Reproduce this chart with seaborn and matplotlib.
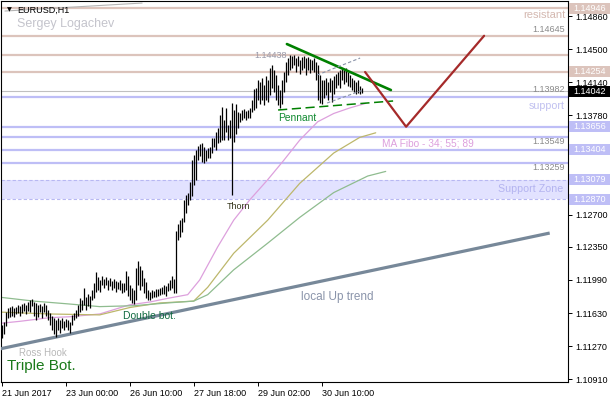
import matplotlib
matplotlib.use("Agg")
import pandas as pd
import matplotlib.pyplot as plt
import matplotlib.transforms as mtransforms
from matplotlib.patches import Rectangle
import seaborn as sns

sns.set_style("white")
plt.rcParams['font.family'] = ['Liberation Sans', 'DejaVu Sans']

# EURUSD H1 bars (high / low)
high = [1.1150, 1.1153, 1.1164, 1.1169, 1.1170, 1.1171, 1.1169, 1.1170, 1.1172, 1.1171,
        1.1173, 1.1174, 1.1172, 1.1175, 1.1177, 1.1178, 1.1175, 1.1174, 1.1172, 1.1173,
        1.1171, 1.1174, 1.1172, 1.1166, 1.1163, 1.1160, 1.1158, 1.1155, 1.1158, 1.1155,
        1.1158, 1.1154, 1.1157, 1.1155, 1.1153, 1.1161, 1.1163, 1.1166, 1.1172, 1.1179,
        1.1177, 1.1190, 1.1180, 1.1184, 1.1182, 1.1188, 1.1196, 1.1208, 1.1202, 1.1199,
        1.1203, 1.1200, 1.1202, 1.1199, 1.1201, 1.1198, 1.1200, 1.1198, 1.1197, 1.1199,
        1.1196, 1.1196, 1.1209, 1.1203, 1.1194, 1.1190, 1.1188, 1.1212, 1.1220, 1.1214,
        1.1210, 1.1201, 1.1197, 1.1188, 1.1186, 1.1188, 1.1187, 1.1189, 1.1189, 1.1190,
        1.1191, 1.1194, 1.1192, 1.1196, 1.1199, 1.1203, 1.1200, 1.1252, 1.1260, 1.1264,
        1.1266, 1.1286, 1.1291, 1.1294, 1.1306, 1.1329, 1.1335, 1.1340, 1.1345, 1.1347,
        1.1348, 1.1344, 1.1340, 1.1343, 1.1344, 1.1353, 1.1353, 1.1360, 1.1364, 1.1378,
        1.1387, 1.1373, 1.1386, 1.1368, 1.1373, 1.1391, 1.1384, 1.1390, 1.1382, 1.1381,
        1.1384, 1.1385, 1.1383, 1.1384, 1.1386, 1.1395, 1.1407, 1.1408, 1.1416, 1.1414,
        1.1419, 1.1411, 1.1421, 1.1416, 1.1430, 1.1433, 1.1427, 1.1422, 1.1411, 1.1406,
        1.1416, 1.1425, 1.1436, 1.1440, 1.1444, 1.1443, 1.1444, 1.1440, 1.1443, 1.1438,
        1.1441, 1.1443, 1.1440, 1.1441, 1.1439, 1.1438, 1.1440, 1.1436, 1.1433, 1.1422,
        1.1416, 1.1416, 1.1419, 1.1414, 1.1419, 1.1416, 1.1421, 1.1423, 1.1425, 1.1427,
        1.1430, 1.1427, 1.1430, 1.1425, 1.1422, 1.1419, 1.1416, 1.1414, 1.1416, 1.1410,
        1.1408]
low = [1.1136, 1.1140, 1.1149, 1.1158, 1.1159, 1.1160, 1.1159, 1.1162, 1.1163, 1.1160,
       1.1163, 1.1165, 1.1162, 1.1165, 1.1164, 1.1171, 1.1160, 1.1155, 1.1159, 1.1164,
       1.1158, 1.1164, 1.1160, 1.1155, 1.1150, 1.1145, 1.1140, 1.1137, 1.1145, 1.1141,
       1.1147, 1.1145, 1.1148, 1.1145, 1.1141, 1.1150, 1.1155, 1.1158, 1.1160, 1.1164,
       1.1166, 1.1172, 1.1166, 1.1171, 1.1169, 1.1177, 1.1179, 1.1186, 1.1188, 1.1186,
       1.1194, 1.1190, 1.1194, 1.1188, 1.1192, 1.1188, 1.1190, 1.1186, 1.1189, 1.1188,
       1.1185, 1.1186, 1.1188, 1.1182, 1.1177, 1.1174, 1.1173, 1.1177, 1.1194, 1.1188,
       1.1192, 1.1185, 1.1179, 1.1177, 1.1177, 1.1179, 1.1181, 1.1181, 1.1182, 1.1183,
       1.1184, 1.1184, 1.1182, 1.1187, 1.1188, 1.1190, 1.1185, 1.1185, 1.1242, 1.1246,
       1.1251, 1.1262, 1.1272, 1.1281, 1.1286, 1.1290, 1.1302, 1.1308, 1.1329, 1.1334,
       1.1327, 1.1326, 1.1328, 1.1332, 1.1332, 1.1337, 1.1344, 1.1340, 1.1348, 1.1349,
       1.1351, 1.1351, 1.1360, 1.1351, 1.1353, 1.1291, 1.1349, 1.1358, 1.1364, 1.1371,
       1.1373, 1.1375, 1.1373, 1.1375, 1.1375, 1.1382, 1.1384, 1.1386, 1.1395, 1.1390,
       1.1395, 1.1389, 1.1395, 1.1393, 1.1400, 1.1408, 1.1403, 1.1395, 1.1389, 1.1386,
       1.1390, 1.1403, 1.1414, 1.1422, 1.1427, 1.1430, 1.1433, 1.1425, 1.1432, 1.1423,
       1.1427, 1.1430, 1.1422, 1.1427, 1.1424, 1.1427, 1.1425, 1.1416, 1.1395, 1.1391,
       1.1390, 1.1397, 1.1400, 1.1395, 1.1403, 1.1393, 1.1401, 1.1408, 1.1411, 1.1408,
       1.1416, 1.1412, 1.1414, 1.1410, 1.1409, 1.1406, 1.1403, 1.1401, 1.1402, 1.1401,
       1.1402]
bid = 1.14042

# moving averages (MA Fibo 34 / 55 / 89), sampled along the drawn curves
ma34_bar = [0, 9, 24, 34, 49, 64, 74, 83, 93, 99, 108, 116, 124, 133, 141, 149, 158, 166, 174, 182]
ma34_val = [1.1152, 1.1154, 1.1158, 1.1159, 1.1162, 1.1172, 1.1175, 1.1179, 1.1183, 1.1199,
            1.1235, 1.1264, 1.1286, 1.1308, 1.1329, 1.1351, 1.1371, 1.1380, 1.1386, 1.1391]
ma55_bar = [0, 24, 49, 64, 79, 96, 103, 116, 133, 149, 166, 179, 187]
ma55_val = [1.1164, 1.1162, 1.1161, 1.1169, 1.1174, 1.1176, 1.1191, 1.1228, 1.1264, 1.1304,
            1.1337, 1.1354, 1.1359]
ma89_bar = [0, 16, 33, 49, 66, 83, 96, 103, 116, 133, 149, 166, 183, 192]
ma89_val = [1.1180, 1.1176, 1.1173, 1.1170, 1.1171, 1.1174, 1.1176, 1.1183, 1.1210, 1.1239,
            1.1267, 1.1294, 1.1312, 1.1317]

# drawn objects
resist_levels = [1.14946, 1.14645, 1.14438, 1.14254]
support_levels = [1.13982, 1.13656, 1.13549, 1.13404, 1.13259]
zone = [1.12870, 1.13079]
trend_bar = [-1, 274]
trend_val = [1.1124, 1.1250]
pennant_top_bar = [142.6, 194.6]
pennant_top_val = [1.14555, 1.14055]
pennant_low_bar = [138.2, 195.7]
pennant_low_val = [1.13838, 1.13936]
flag_up_bar = [157.7, 179.2]
flag_up_val = [1.14218, 1.14403]
flag_dn_bar = [162.7, 180.7]
flag_dn_val = [1.13914, 1.14055]
path_bar = [181.7, 202.2, 241.2]
path_val = [1.14251, 1.13656, 1.14645]
head_bar = [1.6, 70.2]
head_val = [1.14914, 1.15001]

price_ticks = [1.14860, 1.14500, 1.14140, 1.13780, 1.12700, 1.12350, 1.11990, 1.11630, 1.11270, 1.10910]
time_ticks = [0, 32, 64, 96, 128, 160]
time_labels = ['21 Jun 2017', '23 Jun 00:00', '26 Jun 10:00', '27 Jun 18:00', '29 Jun 02:00', '30 Jun 10:00']
tag_prices = [1.14946, 1.14254, 1.14042, 1.13656, 1.13404, 1.13079, 1.12870]

TAN = '#dcc4bc'
LAV = '#bebef6'
W, H = 610, 400

fig = plt.figure(figsize=(W / 100, H / 100), dpi=100)
ax = fig.add_axes([1 / W, 1 - 382 / H, 567 / W, 380.5 / H])
ax.set_xlim(-0.35, 283.15)
ax.set_ylim(1.108804, 1.150177)

# levels
for p in resist_levels:
    ax.axhline(p, color=TAN, lw=1.6, zorder=1)
for p in support_levels:
    ax.axhline(p, color=LAV, lw=1.6, zorder=1)
ax.axhspan(zone[0], zone[1], color='#e2e2ff', lw=0, zorder=0)
for p in zone:
    ax.axhline(p, color='#b8b8f2', lw=0.8, ls=(0, (3, 2)), zorder=1)
ax.axhline(bid, color='#c0c0c0', lw=0.8, zorder=1)

# moving averages
ma = pd.concat([
    pd.DataFrame({'bar': ma34_bar, 'price': ma34_val, 'ma': '34'}),
    pd.DataFrame({'bar': ma55_bar, 'price': ma55_val, 'ma': '55'}),
    pd.DataFrame({'bar': ma89_bar, 'price': ma89_val, 'ma': '89'}),
])
sns.lineplot(data=ma, x='bar', y='price', hue='ma', estimator=None, sort=False,
             palette={'34': '#dda0dd', '55': '#bdb76b', '89': '#8fbc8f'},
             lw=0.9, legend=False, ax=ax, zorder=2)

# bars
bars = list(range(len(high)))
ax.vlines(bars, low, high, color='black', lw=0.9, zorder=4)

# trend lines and pattern
ax.plot(trend_bar, trend_val, color='#778899', lw=2.3, solid_capstyle='butt', zorder=3)
ax.plot(pennant_top_bar, pennant_top_val, color='#008000', lw=1.9, zorder=5)
ax.plot(pennant_low_bar, pennant_low_val, color='#008000', lw=1.1, ls=(0, (6, 3)), zorder=5)
ax.plot(flag_up_bar, flag_up_val, color='#8892a8', lw=0.8, ls=(0, (3, 2)), zorder=5)
ax.plot(flag_dn_bar, flag_dn_val, color='#8892a8', lw=0.8, ls=(0, (3, 2)), zorder=5)
ax.plot(path_bar, path_val, color='#a52a2a', lw=1.6, zorder=5)
ax.plot(head_bar, head_val, color='#b4b4b4', lw=0.8, zorder=5)

# axes look
for s in ax.spines.values():
    s.set_color('black')
    s.set_linewidth(0.8)
ax.yaxis.tick_right()
ax.set_yticks(price_ticks)
ax.set_yticklabels([f'{p:.5f}' for p in price_ticks])
ax.set_xticks(time_ticks)
ax.set_xticklabels(time_labels)
for t in ax.get_xticklabels():
    t.set_horizontalalignment('left')
ax.tick_params(axis='both', length=3, width=0.7, labelsize=6.5, pad=2, colors='black',
               bottom=True, right=True, left=False)
ax.set_xlabel('')
ax.set_ylabel('')

# price tags on the scale
rt = mtransforms.blended_transform_factory(fig.transFigure, ax.transData)
tag_colors = [TAN, TAN, 'black', LAV, LAV, LAV, LAV]
tag_h = 11 / 9197
for p, c in zip(tag_prices, tag_colors):
    fig.patches.append(Rectangle((569 / W, p - tag_h / 2), 41 / W, tag_h, transform=rt,
                                 color=c, lw=0))
    fig.text(573 / W, p, f'{p:.5f}', transform=rt, color='white', fontsize=6.5,
             va='center', ha='left')


def note(x, y, s, ha='left', **kw):
    fig.text(x / W, 1 - y / H, s, ha=ha, va='center', **kw)


note(7, 10, '\u25bc', fontsize=4.5, color='black', family=['DejaVu Sans'])
note(17, 10, 'EURUSD,H1', fontsize=6.5, color='black')
note(17, 24, 'Sergey Logachev', fontsize=9, color='#c4c4cc')
note(565, 15, 'resistant', ha='right', fontsize=8, color='#d4b8b0')
note(565, 29, '1.14645', ha='right', fontsize=6.5, color='#8a8a8a')
note(254, 55, '1.14438', fontsize=6.5, color='#9a9aaa')
note(565, 90, '1.13982', ha='right', fontsize=6.5, color='#8a8a8a')
note(565, 106, 'support', ha='right', fontsize=7.7, color='#c0c0f0')
note(382, 143, 'MA Fibo - 34; 55; 89', fontsize=7.3, color='#dda0dd')
note(565, 141, '1.13549', ha='right', fontsize=6.5, color='#8a8a8a')
note(565, 168, '1.13259', ha='right', fontsize=6.5, color='#8a8a8a')
note(563, 189, 'Support Zone', ha='right', fontsize=7.7, color='#b4b4f0')
note(278, 118, 'Pennant', fontsize=7.4, color='#108a30')
note(227, 207, 'Thorn', fontsize=6.5, color='#333319')
note(123, 316, 'Double bot.', fontsize=7.5, color='#106a40')
note(301, 297, 'local Up trend', fontsize=8.5, color='#8a94aa')
note(19, 353, 'Ross Hook', fontsize=7, color='#b8b8b8')
note(7, 366, 'Triple Bot.', fontsize=11, color='#1b7a1b')

fig.savefig('out.png', dpi=100)
